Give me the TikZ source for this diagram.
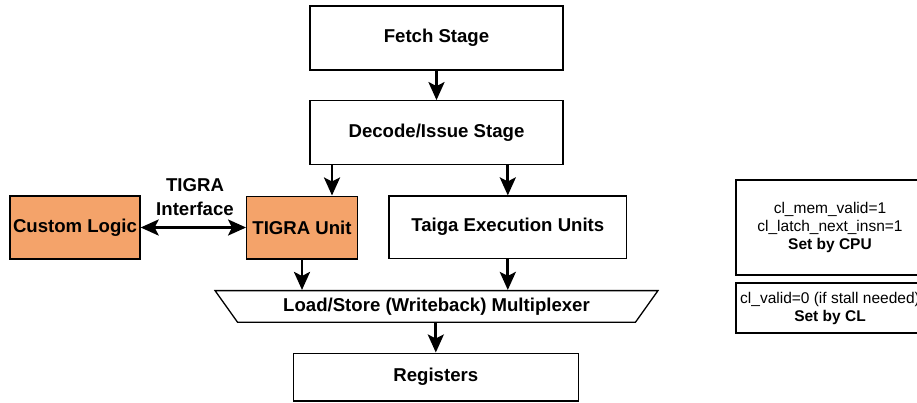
\documentclass[tikz,border=0pt]{standalone}
\usepackage{fontspec}
\setmainfont{Liberation Sans}
\usetikzlibrary{arrows.meta,shapes.geometric}

\definecolor{tigraorange}{RGB}{244,163,106}

\begin{document}
\begin{tikzpicture}[
    x=1pt, y=-1pt,
    font=\fontsize{18.6}{22}\selectfont\bfseries,
    block/.style={draw, line width=1.3pt, inner sep=0pt},
    tigrablock/.style={block, fill=tigraorange},
    flow/.style={-{Stealth[length=18pt, width=16pt, inset=4pt]}, line width=2.8pt},
    biflow/.style={{Stealth[length=18pt, width=16pt, inset=4pt]}-{Stealth[length=18pt, width=16pt, inset=4pt]}, line width=2.8pt},
    note/.style={font=\fontsize{15.5}{18}\selectfont, align=center}
  ]

  \useasboundingbox (0,0) rectangle (917,402);
  \clip (0,0) rectangle (917,402);

  % Pipeline stages
  \node[block, minimum width=253pt, minimum height=64pt] (fetch) at (436.5,38) {Fetch Stage};
  \node[block, minimum width=253pt, minimum height=63.5pt] (decode) at (436.5,132.5) {Decode/Issue Stage};

  % Execution side
  \node[tigrablock, minimum width=110.6pt, minimum height=62.7pt] (tigra) at (302,227.5) {TIGRA Unit};
  \node[tigrablock, minimum width=130pt, minimum height=63pt] (custom) at (75,227.5) {Custom Logic};
  \node[block, minimum width=237.7pt, minimum height=62.3pt] (taiga) at (507.8,227.2) {Taiga Execution Units};
  \node[align=center, font=\fontsize{18.6}{24}\selectfont\bfseries] (iface) at (195,197) {TIGRA\\Interface};

  % Writeback
  \node[block, trapezium, trapezium angle=45, shape border rotate=180, trapezium stretches=true,
        minimum width=443pt, minimum height=31.6pt] (mux) at (436.5,306.4) {Load/Store (Writeback) Multiplexer};
  \node[block, minimum width=285pt, minimum height=47.7pt] (regs) at (435.8,377) {Registers};

  % Handshake notes
  \node[block, minimum width=188pt, minimum height=95pt] (cpubox) at (830,227.5) {};
  \node[note] (cpunote) at (cpubox.center) {cl\_mem\_valid=1\\cl\_latch\_next\_insn=1\\\textbf{Set by CPU}};
  \node[block, minimum width=188pt, minimum height=50pt] (clbox) at (830,308) {};
  \node[note] (clnote) at (clbox.center) {cl\_valid=0 (if stall needed)\\\textbf{Set by CL}};

  % Arrows
  \draw[flow] (fetch) -- (decode);
  \draw[flow] ([xshift=30pt]tigra.north |- decode.south) -- ([xshift=30pt]tigra.north);
  \draw[flow] (taiga.north |- decode.south) -- (taiga.north);
  \draw[biflow] (custom.east) -- (tigra.west);
  \draw[flow] (tigra.south) -- (tigra.south |- mux.north);
  \draw[flow] (taiga.south) -- (taiga.south |- mux.north);
  \draw[flow] (regs.north |- mux.south) -- (regs.north);

\end{tikzpicture}
\end{document}
